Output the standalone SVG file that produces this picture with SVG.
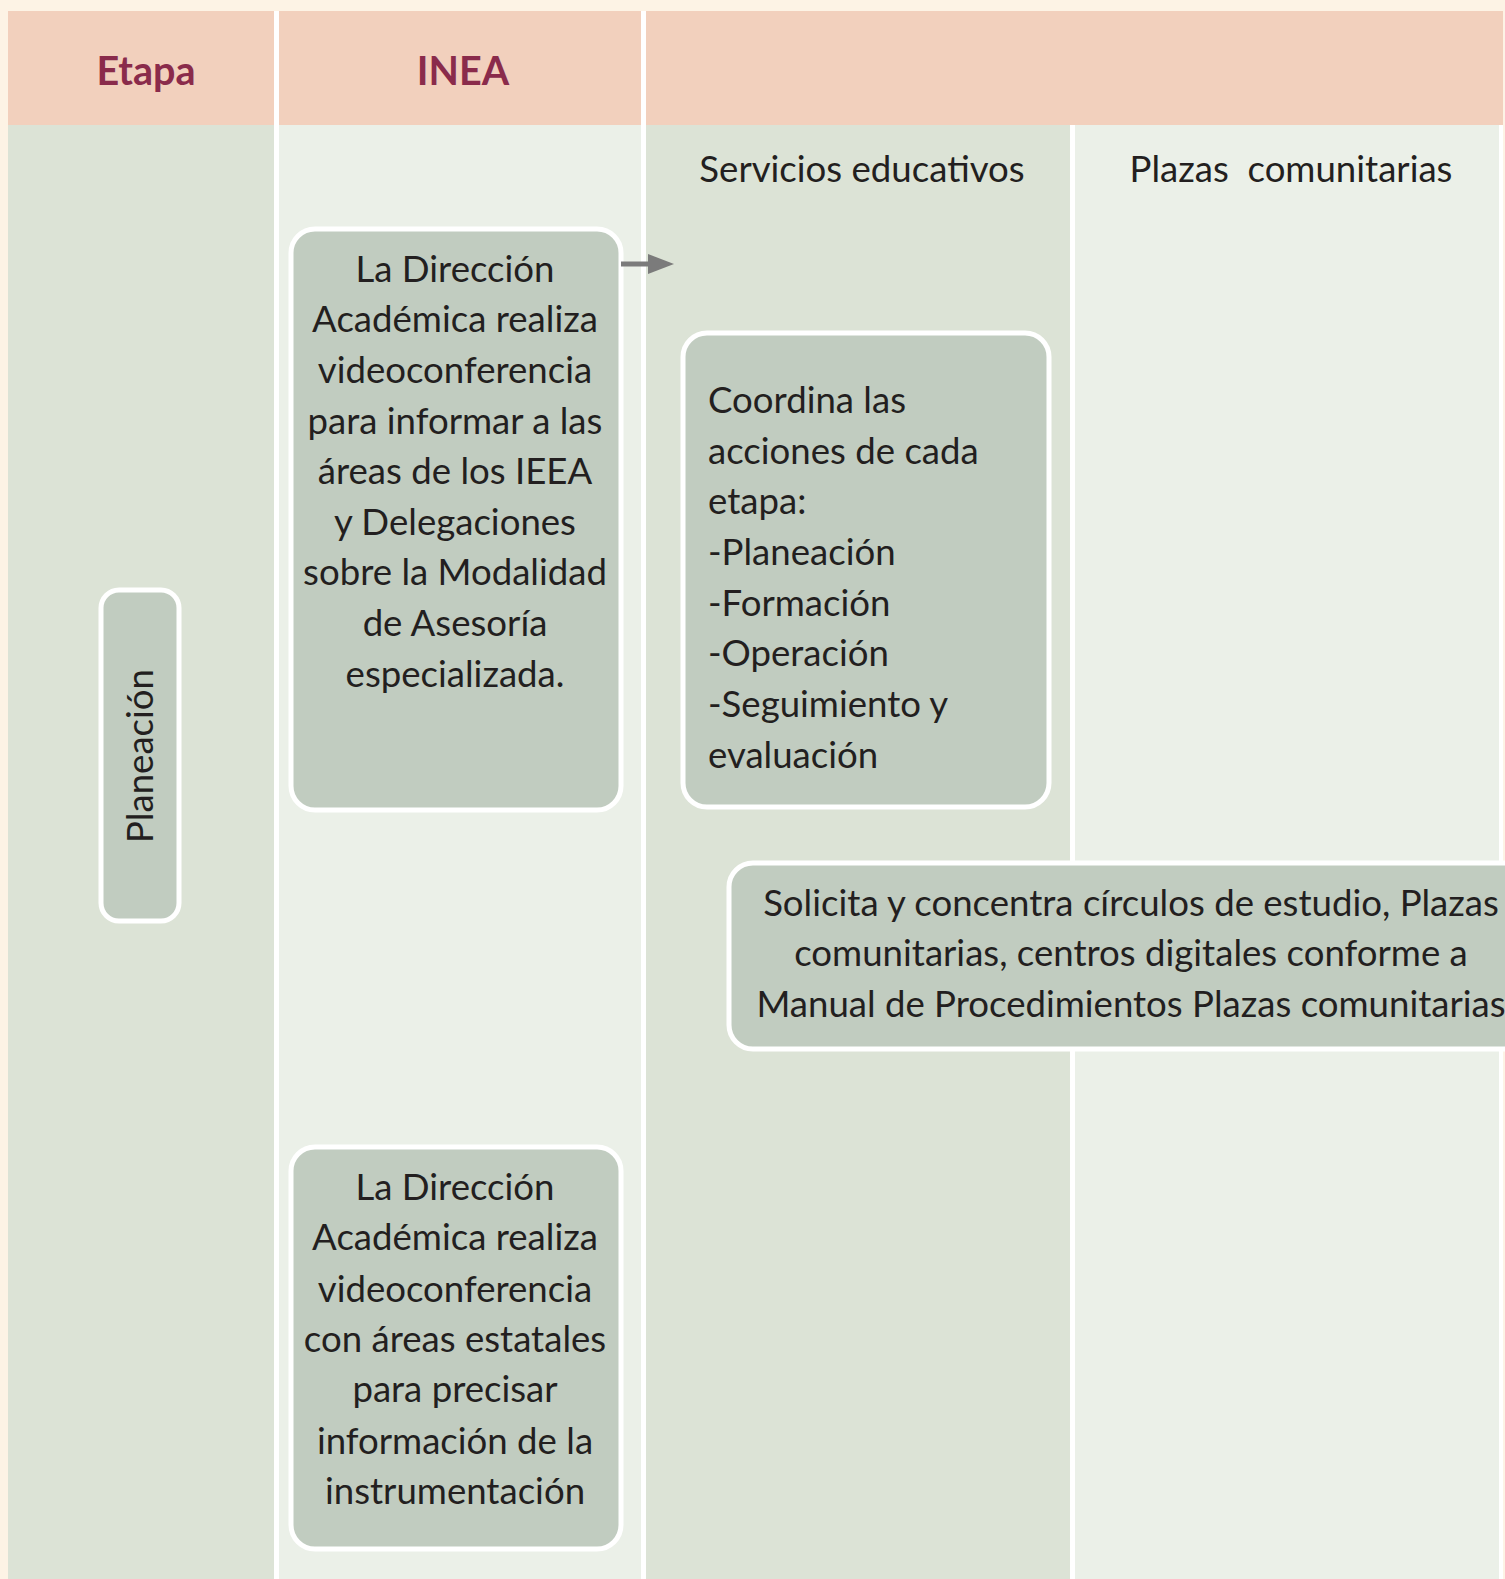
<svg xmlns="http://www.w3.org/2000/svg" width="1505" height="1579" viewBox="0 0 1505 1579">
<style>
.hdr{font-family:Lato,"Open Sans",sans-serif;font-weight:700;font-size:39.5px;fill:#8a2b4b;text-anchor:middle}
.sub{font-family:Lato,"Open Sans",sans-serif;font-size:36.6px;fill:#231f20;text-anchor:middle;white-space:pre}
.box{fill:#c1ccc0;stroke:#ffffff;stroke-width:5}
.t{font-family:Lato,"Open Sans",sans-serif;font-size:36.6px;fill:#231f20}
.c{text-anchor:middle}
</style>
<defs>
<marker id="ah" markerWidth="26" markerHeight="20" refX="0" refY="10" orient="auto" markerUnits="userSpaceOnUse">
<path d="M0,0 L26,10 L0,20 Z" fill="#7b7b7b"/>
</marker>
</defs>
<rect x="0" y="0" width="1505" height="1579" fill="#fdf3e5"/>
<g id="lanes">
<rect x="8" y="125" width="266" height="1454" fill="#dce3d6"/>
<rect x="279" y="125" width="362" height="1454" fill="#ebf0e8"/>
<rect x="646" y="125" width="424" height="1454" fill="#dce3d6"/>
<rect x="1075" y="125" width="424" height="1454" fill="#ebf0e8"/>
<rect x="1499" y="125" width="4" height="1454" fill="#ffffff"/>
<rect x="274" y="11" width="5" height="1568" fill="#ffffff"/>
<rect x="641" y="11" width="5" height="1568" fill="#ffffff"/>
<rect x="1070" y="125" width="5" height="1454" fill="#ffffff"/>
<rect x="8" y="11" width="266" height="114" fill="#f2d0bd"/>
<rect x="279" y="11" width="362" height="114" fill="#f2d0bd"/>
<rect x="646" y="11" width="857" height="114" fill="#f2d0bd"/>
<text class="hdr" x="146" y="85">Etapa</text>
<text class="hdr" x="463" y="85">INEA</text>
<text class="sub" x="862" y="182">Servicios educativos</text>
<text class="sub" x="1291" y="182">Plazas  comunitarias</text>
</g>
<g id="node-planeacion">
<rect class="box" x="101" y="590" width="78" height="331" rx="18"/>
<text class="t c" transform="translate(153,756) rotate(-90)">Planeación</text>
</g>
<g id="node-inea1">
<rect class="box" x="291" y="229" width="330" height="581" rx="24"/>
<text class="t c" x="455" y="282">La Dirección</text>
<text class="t c" x="455" y="332">Académica realiza</text>
<text class="t c" x="455" y="383">videoconferencia</text>
<text class="t c" x="455" y="434">para informar a las</text>
<text class="t c" x="455" y="484">áreas de los IEEA</text>
<text class="t c" x="455" y="535">y Delegaciones</text>
<text class="t c" x="455" y="585">sobre la Modalidad</text>
<text class="t c" x="455" y="636">de Asesoría</text>
<text class="t c" x="455" y="687">especializada.</text>
</g>
<g id="node-coordina">
<rect class="box" x="683" y="333" width="366" height="474" rx="24"/>
<text class="t" x="708" y="413">Coordina las</text>
<text class="t" x="708" y="464">acciones de cada</text>
<text class="t" x="708" y="514">etapa:</text>
<text class="t" x="708" y="565">-Planeación</text>
<text class="t" x="708" y="616">-Formación</text>
<text class="t" x="708" y="666">-Operación</text>
<text class="t" x="708" y="717">-Seguimiento y</text>
<text class="t" x="708" y="768">evaluación</text>
</g>
<g id="node-solicita">
<rect class="box" x="729" y="863" width="820" height="186" rx="24"/>
<text class="t c" x="1131" y="916">Solicita y concentra círculos de estudio, Plazas</text>
<text class="t c" x="1131" y="966">comunitarias, centros digitales conforme a</text>
<text class="t c" x="1131" y="1017">Manual de Procedimientos Plazas comunitarias</text>
</g>
<g id="node-inea2">
<rect class="box" x="291" y="1147" width="330" height="402" rx="24"/>
<text class="t c" x="455" y="1200">La Dirección</text>
<text class="t c" x="455" y="1250">Académica realiza</text>
<text class="t c" x="455" y="1302">videoconferencia</text>
<text class="t c" x="455" y="1352">con áreas estatales</text>
<text class="t c" x="455" y="1402">para precisar</text>
<text class="t c" x="455" y="1454">información de la</text>
<text class="t c" x="455" y="1504">instrumentación</text>
</g>
<g id="connectors">
<line x1="621" y1="264" x2="648" y2="264" stroke="#7b7b7b" stroke-width="5" marker-end="url(#ah)"/>
</g>
</svg>
